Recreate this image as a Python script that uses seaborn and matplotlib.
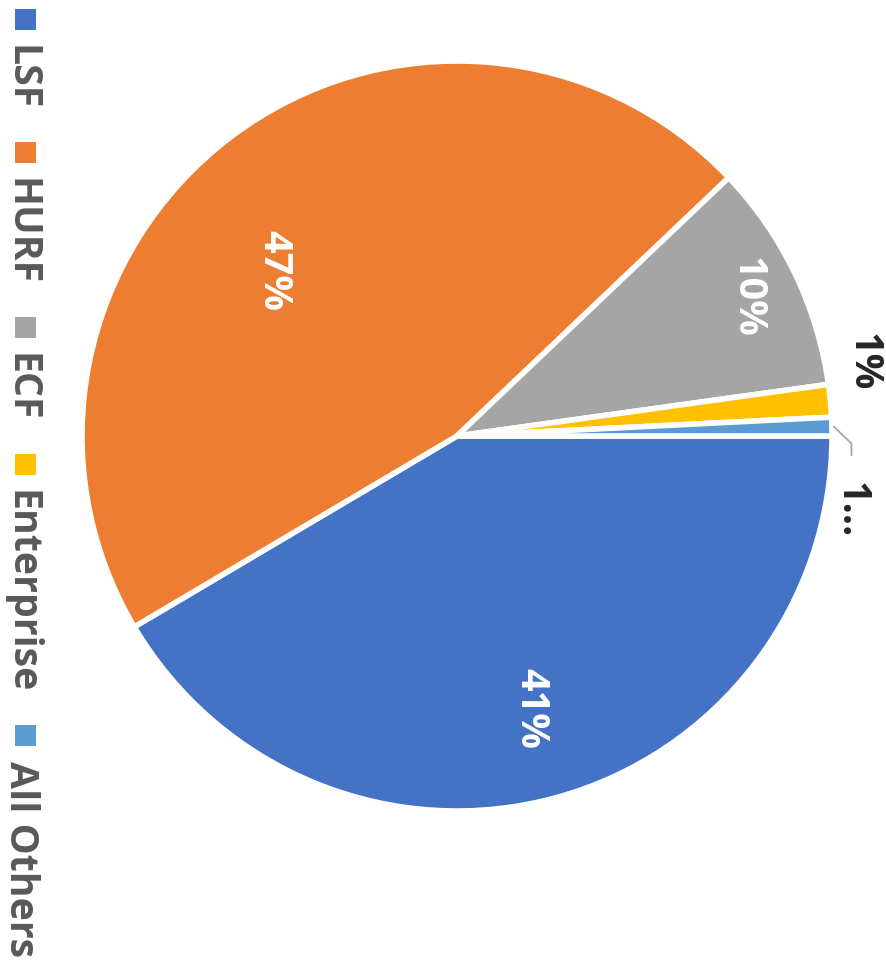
import numpy as np
import matplotlib.pyplot as plt
import seaborn as sns
from matplotlib.patches import Rectangle

# slice shares (percent of the circle)
categories = ['LSF', 'HURF', 'ECF', 'Enterprise', 'All Others']
shares = [41.5, 46.4, 9.9, 1.4, 0.8]
pct_labels = ['41%', '47%', '10%', '1%', '1...']
colors = ['#4472C4', '#ED7D31', '#A5A5A5', '#FFC000', '#5B9BD5']

# label placement: radius (fraction of pie radius) and clockwise shift in degrees
label_r = [0.75, 0.66, 0.86, 1.10, 1.07]
label_shift = [0, -10.5, 0, -5, 12]
label_inside = [True, True, True, False, False]

sns.set_theme(style='white')
plt.rcParams['font.family'] = ['Open Sans', 'DejaVu Sans']

W, H = 887, 970
fig = plt.figure(figsize=(W / 100, H / 100), dpi=100)

# pie centre and radius in pixels, axes spans +-1.3 radii
cx, cy, R = 457, 437, 375
L = 1.3
ax = fig.add_axes([(cx - L * R) / W, 1 - (cy + L * R) / H, 2 * L * R / W, 2 * L * R / H])
wedges, _ = ax.pie(shares, colors=sns.color_palette(colors), startangle=0,
                   counterclock=False, radius=1,
                   wedgeprops=dict(edgecolor='white', linewidth=4))
ax.set_xlim(-L, L)
ax.set_ylim(-L, L)
ax.set_aspect('equal')
ax.axis('off')

# data labels, rotated like the rest of the chart
for w, txt, r, sh, inside in zip(wedges, pct_labels, label_r, label_shift, label_inside):
    mid = np.deg2rad((w.theta1 + w.theta2) / 2 - sh)
    x, y = r * np.cos(mid), r * np.sin(mid)
    ax.text(x, y, txt, rotation=-90, ha='center', va='center',
            fontsize=28.5, fontweight='bold',
            color='white' if inside else '#262626')
    if txt.endswith('...'):
        m0 = np.deg2rad((w.theta1 + w.theta2) / 2)
        sx, sy = np.cos(m0), np.sin(m0)
        ax.plot([sx + 0.005, x, x], [sy, sy - 0.045, y + 0.145],
                color='#A6A6A6', lw=1.3, clip_on=False)

# legend, stacked top to bottom with rotated text
fig.canvas.draw()
renderer = fig.canvas.get_renderer()
cursor = 10
for name, col in zip(categories, colors):
    fig.patches.append(Rectangle((15 / W, 1 - (cursor + 21) / H), 21 / W, 21 / H,
                                 transform=fig.transFigure, facecolor=col,
                                 edgecolor='none'))
    t = fig.text(1 / W, 1 - (cursor + 35) / H, name, rotation=-90,
                 ha='left', va='top', fontsize=28.3, fontweight='bold', color='#595959')
    bb = t.get_window_extent(renderer)
    cursor = (H - bb.y0) + 33

fig.savefig('out.png', dpi=100)
